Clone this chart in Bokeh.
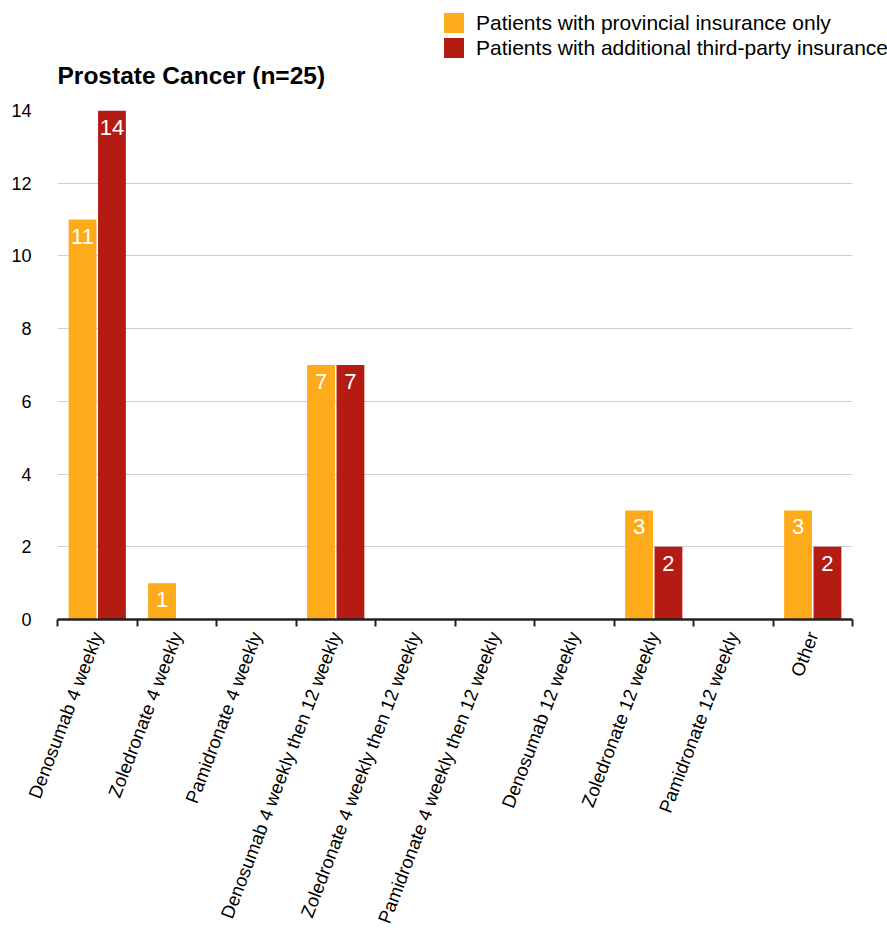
import math
from bokeh.plotting import figure
from bokeh.layouts import column
from bokeh.models import (ColumnDataSource, FixedTicker, Legend, LegendItem,
                          LabelSet, Label, Range1d)
from bokeh.core.properties import value
from bokeh.transform import dodge
from bokeh.embed import file_html
from bokeh.resources import INLINE

categories = [
    "Denosumab 4 weekly",
    "Zoledronate 4 weekly",
    "Pamidronate 4 weekly",
    "Denosumab 4 weekly then 12 weekly",
    "Zoledronate 4 weekly then 12 weekly",
    "Pamidronate 4 weekly then 12 weekly",
    "Denosumab 12 weekly",
    "Zoledronate 12 weekly",
    "Pamidronate 12 weekly",
    "Other",
]
provincial_only = [11, 1, 0, 7, 0, 0, 0, 3, 0, 3]
third_party = [14, 0, 0, 7, 0, 0, 0, 2, 0, 2]
series_names = ["Patients with provincial insurance only",
                "Patients with additional third-party insurance"]
title_text = "Prostate Cancer (n=25)"
y_ticks = [0, 2, 4, 6, 8, 10, 12, 14]

ORANGE = "#FDAB1B"
RED = "#B31B13"
FONT = "Liberation Sans"

idx = list(range(len(categories)))
src = ColumnDataSource(dict(
    x=idx,
    a=provincial_only,
    b=third_party,
    a_txt=[str(v) if v else "" for v in provincial_only],
    b_txt=[str(v) if v else "" for v in third_party],
))

# ---------- header (legend + title) ----------
top = figure(width=887, height=100, output_backend="svg", toolbar_location=None,
             x_range=Range1d(0, 1), y_range=Range1d(0, 1),
             min_border=0, x_axis_type=None, y_axis_type=None)
top.frame_align = False
top.outline_line_color = None
top.xgrid.visible = False
top.ygrid.visible = False
# legend proxies (kept outside the visible range of the header)
lr1 = top.vbar(x=[-5], top=[-5], width=0.1, fill_color=ORANGE, line_color=None)
lr2 = top.vbar(x=[-5], top=[-5], width=0.1, fill_color=RED, line_color=None)
legend = Legend(items=[LegendItem(label=series_names[0], renderers=[lr1]),
                       LegendItem(label=series_names[1], renderers=[lr2])],
                location=(441, 40), padding=0, margin=0, spacing=0,
                glyph_width=25, glyph_height=25, label_height=24,
                label_standoff=10, label_text_font=FONT,
                label_text_font_size="21px", label_text_color="black",
                border_line_color=None, background_fill_alpha=0)
top.add_layout(legend, "center")
top.add_layout(Label(x=57, y=25, x_units="screen", y_units="screen",
                     text=title_text, text_font=FONT, text_font_size="24.5px",
                     text_font_style="bold", text_color="black",
                     text_baseline="alphabetic", text_align="left"))

# ---------- main chart ----------
p = figure(width=887, height=832, output_backend="svg", toolbar_location=None,
           x_range=Range1d(-0.5, len(categories) - 0.5),
           y_range=Range1d(0, 14),
           min_border_left=57, min_border_right=35,
           min_border_top=10, min_border_bottom=313)
p.frame_align = False
p.outline_line_color = None
p.background_fill_color = "white"

off = 0.185
w = 0.35
r1 = p.vbar(x=dodge("x", -off, range=p.x_range), top="a", width=w, source=src,
            fill_color=ORANGE, line_color=None)
r2 = p.vbar(x=dodge("x", off, range=p.x_range), top="b", width=w, source=src,
            fill_color=RED, line_color=None)

for col, txt, d in (("a", "a_txt", -off), ("b", "b_txt", off)):
    ls = LabelSet(x=dodge("x", d, range=p.x_range), y=col, text=txt, source=src,
                  text_color="white", text_font=value(FONT), text_font_size="22px",
                  text_align="center", text_baseline="top", y_offset=-9)
    p.add_layout(ls)

# x axis
xa = p.xaxis[0]
xa.ticker = FixedTicker(ticks=idx, minor_ticks=[i - 0.5 for i in range(len(categories) + 1)])
xa.major_label_overrides = {i: c for i, c in enumerate(categories)}
xa.major_label_orientation = math.radians(69)
xa.major_label_text_font = FONT
xa.major_label_text_font_size = "18.5px"
xa.major_label_text_color = "black"
xa.major_label_standoff = 6
xa.major_tick_line_color = None
xa.minor_tick_line_color = "#222222"
xa.minor_tick_line_width = 2
xa.minor_tick_out = 7
xa.minor_tick_in = 0
xa.axis_line_color = "#222222"
xa.axis_line_width = 2.5

# y axis
ya = p.yaxis[0]
ya.ticker = FixedTicker(ticks=y_ticks)
ya.axis_line_color = None
ya.major_tick_line_color = None
ya.minor_tick_line_color = None
ya.major_label_text_font = FONT
ya.major_label_text_font_size = "18px"
ya.major_label_text_color = "black"
ya.major_label_standoff = 20

p.xgrid.grid_line_color = None
p.ygrid.grid_line_color = "#cfcfcf"
p.ygrid.grid_line_width = 1
p.ygrid.ticker = FixedTicker(ticks=y_ticks)

layout = column(top, p, spacing=0)
open("out.html", "w").write(file_html(layout, INLINE))
